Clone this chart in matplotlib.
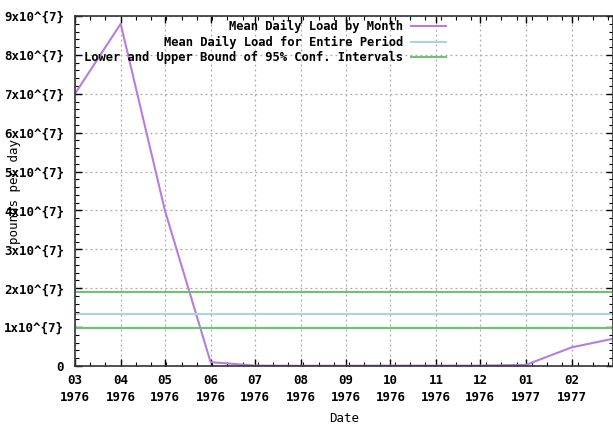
import numpy as np
import matplotlib
matplotlib.use("Agg")
import matplotlib.pyplot as plt
import matplotlib.dates as mdates
from matplotlib.ticker import FixedLocator, AutoMinorLocator
from datetime import datetime

# monthly mean daily load (pounds per day)
months = ['1976-03', '1976-04', '1976-05', '1976-06', '1976-07', '1976-08',
          '1976-09', '1976-10', '1976-11', '1976-12', '1977-01', '1977-02',
          '1977-03']
monthly_load = [7.0e7, 8.8e7, 4.0e7, 1.0e6, 1.0e5, 5.0e4,
                5.0e4, 1.0e5, 1.0e5, 1.0e5, 3.0e5, 4.8e6,
                7.0e6]
period_mean = 1.35e7
conf_lower = 0.97e7
conf_upper = 1.91e7

ytick_vals = [0, 1e7, 2e7, 3e7, 4e7, 5e7, 6e7, 7e7, 8e7, 9e7]
ytick_labels = ['0'] + ['%dx10^{7}' % i for i in range(1, 10)]

plt.rcParams['font.family'] = ['DejaVu Sans Mono']
plt.rcParams['font.weight'] = 'bold'
plt.rcParams['font.size'] = 9

x = [datetime.strptime(m, "%Y-%m") for m in months]
xnum = mdates.date2num(x)

fig = plt.figure(figsize=(6.13, 4.25), dpi=100)
ax = fig.add_axes([75 / 613, 59 / 425, 538 / 613, 350 / 425])

ax.plot(xnum, monthly_load, color='#b57edc', linewidth=1.5,
        label='Mean Daily Load by Month')
ax.axhline(period_mean, color='#a8d4e4', linewidth=1.5,
           label='Mean Daily Load for Entire Period')
ax.axhline(conf_upper, color='#6cc46c', linewidth=1.5,
           label='Lower and Upper Bound of 95% Conf. Intervals')
ax.axhline(conf_lower, color='#6cc46c', linewidth=1.5)

ax.set_xlim(xnum[0], xnum[-1])
ax.set_ylim(0, 9e7)

ax.xaxis.set_major_locator(FixedLocator(xnum[:-1]))
ax.set_xticklabels([d.strftime('%m\n%Y') for d in x[:-1]], linespacing=1.35)
ax.xaxis.set_minor_locator(AutoMinorLocator(3))
ax.set_yticks(ytick_vals)
ax.set_yticklabels(ytick_labels)
ax.yaxis.set_minor_locator(AutoMinorLocator(5))

ax.tick_params(which='major', direction='in', length=5, width=1,
               top=True, right=True)
ax.tick_params(axis='x', which='major', pad=6)
ax.tick_params(axis='y', which='major', pad=8)
ax.tick_params(which='minor', direction='in', length=3, width=0.8,
               top=True, right=True)
for s in ax.spines.values():
    s.set_linewidth(1.2)
    s.set_color('#333333')

ax.grid(True, which='major', linestyle=(0, (1.5, 2.5)), color='#aaaaaa',
        linewidth=0.9)

ax.set_xlabel('Date', labelpad=6)
ax.set_ylabel('pounds per day')
ax.yaxis.set_label_coords(-0.1, 0.5)

leg = ax.legend(loc='upper right', bbox_to_anchor=(0.705, 1.012), frameon=False,
                markerfirst=False, handlelength=2.9, labelspacing=0.2,
                borderpad=0.2, handletextpad=0.65, prop={'size': 8.7})
for t in leg.get_texts():
    t.set_ha('right')
leg._legend_box.align = 'right'

plt.savefig('out.png', dpi=100)
